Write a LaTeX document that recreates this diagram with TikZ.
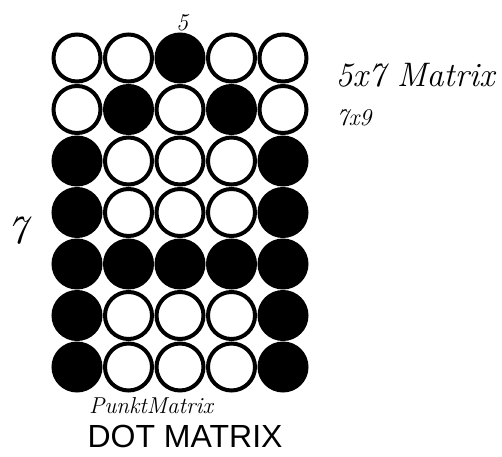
\documentclass[tikz,border=0pt]{standalone}
\usepackage{fontspec}
\setsansfont{Liberation Sans}
\usetikzlibrary{positioning}

\tikzset{
  dot/.style={circle, draw, line width=4pt, minimum size=47pt, inner sep=0pt},
  on/.style={dot, fill=black},
  off/.style={dot, fill=white},
  hand/.style={font=\itshape, inner sep=0pt},
}

\begin{document}
\begin{tikzpicture}[x=1pt, y=1pt]

        \useasboundingbox (0,0) rectangle (502,456);

        % letter A, row by row
        \foreach \row [count=\r] in {{off,off,on,off,off},{off,on,off,on,off},{on,off,off,off,on},{on,off,off,off,on},{on,on,on,on,on},{on,off,off,off,on},{on,off,off,off,on}} {
            \foreach \s [count=\c] in \row {
                \node[\s] (d\r\c) at ({77+51.5*(\c-1)}, {398-51.5*(\r-1)}) {};
            }
        }

        \node[hand, font=\itshape\fontsize{24}{24}\selectfont] (cols) at (182,433) {5};
        \node[hand, font=\itshape\fontsize{40}{40}\selectfont] (rows) at (18,225) {7};
        \node[hand, font=\itshape\fontsize{34}{34}\selectfont] (size) at (415,381) {5x7 Matrix};
        \node[hand, font=\itshape\fontsize{24}{24}\selectfont] (alt) at (354,338) {7x9};
        \node[hand, font=\itshape\fontsize{23}{23}\selectfont] (punkt) at (151,50) {PunktMatrix};
        \node[font=\sffamily\fontsize{32}{32}\selectfont, inner sep=0pt] (title) at (185,20) {DOT MATRIX};

\end{tikzpicture}
\end{document}
